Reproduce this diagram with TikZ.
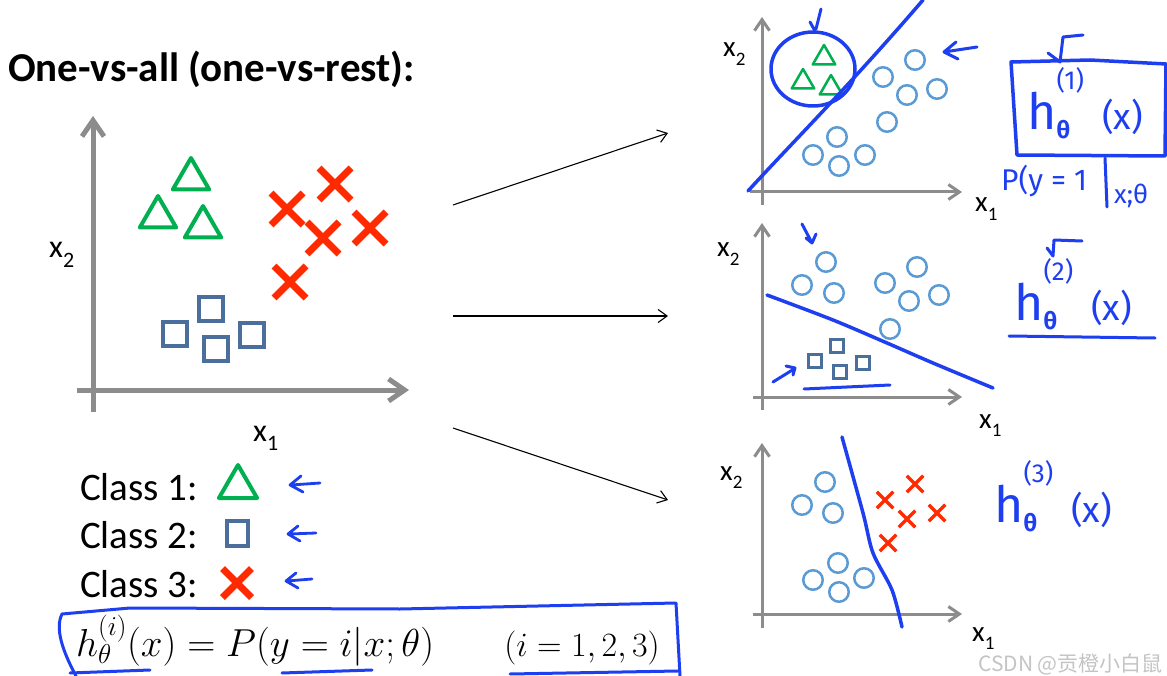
\RequirePackage{fix-cm}
\documentclass[tikz,border=0pt]{standalone}
\usepackage[no-math]{fontspec}
\setmainfont{Carlito}
\newfontfamily\handfont{Fira Sans}
\newfontfamily\cjkfont{Noto Sans CJK SC}
\usepackage{xcolor}
\definecolor{ovagreen}{HTML}{00B050}
\definecolor{ovared}{HTML}{FF2A00}
\definecolor{ovasquare}{HTML}{4A6F9C}
\definecolor{ovacircle}{HTML}{5B9BD5}
\definecolor{ovagray}{HTML}{8C8C8C}
\definecolor{ovablue}{HTML}{1E3FF0}
\definecolor{ovawm}{HTML}{C4C4C4}
\usepackage{tikz}
\usetikzlibrary{arrows.meta,positioning,shapes.geometric,shapes.misc}
\tikzset{
  ovatitle/.style={inner sep=0pt,font=\bfseries\fontsize{41}{46}\selectfont},
  ovaclass/.style={inner sep=0pt,anchor=base west,font=\fontsize{39}{44}\selectfont},
  ovalab/.style={inner sep=0pt,anchor=base west,font=\fontsize{32}{36}\selectfont},
  ovalabs/.style={inner sep=0pt,anchor=base west,font=\fontsize{29}{32}\selectfont},
  ovaaxis/.style={draw=ovagray,line width=5pt,-{Straight Barb[length=16pt,width=22pt]}},
  ovaaxiss/.style={draw=ovagray,line width=3pt,-{Straight Barb[length=11pt,width=15pt]}},
  ovatri/.style={draw=ovagreen,regular polygon,regular polygon sides=3,line width=4pt,line join=round,inner sep=0pt,minimum size=42pt},
  ovatris/.style={ovatri,line width=2.5pt,minimum size=26pt},
  ovasq/.style={draw=ovasquare,rectangle,line width=4pt,inner sep=0pt,minimum size=24pt},
  ovasqs/.style={ovasq,line width=2.5pt,minimum size=13pt},
  ovacross/.style={draw=ovared,cross out,line width=7pt,inner sep=0pt,minimum size=25pt},
  ovacrosss/.style={ovacross,line width=3.5pt,minimum size=13pt},
  ovacirc/.style={draw=ovacircle,circle,line width=2.5pt,inner sep=0pt,minimum size=19.5pt},
  ovaflow/.style={-{Straight Barb[length=9pt,width=13pt]},line width=1.1pt},
  ovahand/.style={draw=ovablue,line width=3.5pt,line cap=round,line join=round},
  ovahtxt/.style={text=ovablue,inner sep=0pt,anchor=base west,font=\handfont},
}
\newcommand{\xsub}[2]{x\raisebox{-0.3em}{\fontsize{#2}{#2}\selectfont #1}}
\newcommand{\hfn}[1]{{\fontsize{50}{50}\selectfont h}%
  \rlap{\raisebox{-9pt}{\fontsize{24}{24}\selectfont\bfseries θ}}%
  \raisebox{40pt}{\fontsize{26}{26}\selectfont(#1)}%
  \kern18pt{\fontsize{36}{36}\selectfont(x)}}

\begin{document}
\begin{tikzpicture}[x=1pt,y=-1pt]
\useasboundingbox (0,0) rectangle (1167,676);
\fill[white] (0,0) rectangle (1167,676);

% title
\node[ovatitle,anchor=base west] (title) at (8,82) {One-vs-all (one-vs-rest):};

% all classes together
\draw[ovaaxis] (93,412) -- (93,116);
\draw[ovaaxis] (77,390) -- (409,390);
\node[ovalab] (lx2) at (49,258) {\xsub{2}{22}};
\node[ovalab] (lx1) at (253,441) {\xsub{1}{22}};
\foreach \n/\x/\y in {1/191/179,2/158/217,3/203/227}
  \node[ovatri] (tri\n) at (\x,\y) {};
\foreach \n/\x/\y in {1/211/309,2/175/334,3/216/349,4/252/335}
  \node[ovasq] (sq\n) at (\x,\y) {};
\foreach \n/\x/\y in {1/335/184,2/287/209,3/323/238,4/370/228,5/290/282}
  \node[ovacross] (cr\n) at (\x,\y) {};

% legend
\node[ovaclass] (c1) at (80,500) {Class 1:};
\node[ovaclass] (c2) at (80,548) {Class 2:};
\node[ovaclass] (c3) at (80,597) {Class 3:};
\node[ovatri,minimum size=44pt] (ktri) at (238,487) {};
\node[ovasq,minimum width=21pt,minimum height=25pt] (ksq) at (237,533) {};
\node[ovacross,minimum size=22pt] (kcr) at (237,583) {};
\draw[ovahand,line width=2.8pt] (320,483) -- (291,485) (301,476) -- (290,485) -- (303,492);
\draw[ovahand,line width=2.8pt] (316,533) -- (289,534) (298,526) -- (288,534) -- (300,541);
\draw[ovahand,line width=2.8pt] (312,579) -- (287,581) (296,573) -- (286,581) -- (298,588);

% formula
\node[inner sep=0pt,anchor=base west,font=\fontsize{39}{44}\selectfont] (hyp) at (76,656)
  {$h_\theta^{(i)}(x) = P(y=i|x;\theta)$};
\node[inner sep=0pt,anchor=base east,font=\fontsize{34}{40}\selectfont] (rng) at (660,656)
  {$(i=1,2,3)$};
\draw[ovahand,line width=3pt] (76,676) .. controls (62,650) and (55,628) .. (62,614)
  -- (130,608) -- (400,609) -- (676,603) -- (680,676);
\draw[ovahand,line width=3pt] (70,673) -- (150,670) (282,673) -- (372,670) (510,674) -- (678,671);

% arrows to the three sub-problems
\coordinate (out1) at (453,205);
\coordinate (out2) at (453,316);
\coordinate (out3) at (453,428);
\coordinate (in1) at (668,133);
\coordinate (in2) at (668,316);
\coordinate (in3) at (668,500);
\draw[ovaflow] (out1) -- (in1);
\draw[ovaflow] (out2) -- (in2);
\draw[ovaflow] (out3) -- (in3);

% class 1 vs rest
\draw[ovaaxiss] (762,205) -- (762,17);
\draw[ovaaxiss] (750,192) -- (962,192);
\node[ovalabs] (ax2) at (723,57) {\xsub{2}{19}};
\node[ovalabs] (ax1) at (975,212) {\xsub{1}{19}};
\foreach \n/\x/\y in {1/824/58,2/803/82,3/831/88}
  \node[ovatris] (atri\n) at (\x,\y) {};
\foreach \n/\x/\y in {1/915/60,2/883/77,3/907/95,4/937/89,5/887/122,6/837/137,7/813/155,8/839/166,9/865/155}
  \node[ovacirc] (ac\n) at (\x,\y) {};
\draw[ovahand] (748,191) .. controls (790,145) and (850,85) .. (923,0);
\draw[ovahand] (813,69) ellipse [x radius=42, y radius=37];
\draw[ovahand,line width=3pt] (821,9) -- (816,29) (810,22) -- (815,31);
\draw[ovahand,line width=3pt] (977,47) -- (944,52) (956,42) -- (944,52) -- (958,59);
\draw[ovahand] (1011,62) -- (1090,60) -- (1166,64) -- (1165,156) -- (1017,155) -- cycle;
\draw[ovahand,line width=3pt] (1048,53) -- (1060,62) -- (1063,37) -- (1083,35);
\node[ovahtxt] (h1) at (1027,130) {\hfn{1}};
\node[ovahtxt,font=\handfont\fontsize{30}{30}\selectfont] (p1) at (1001,191) {P(y = 1};
\draw[ovahand,line width=3pt] (1105,158) -- (1107,207);
\node[ovahtxt,font=\handfont\fontsize{26}{26}\selectfont] (p1b) at (1114,204) {x;θ};

% class 2 vs rest
\draw[ovaaxiss] (762,410) -- (762,223);
\draw[ovaaxiss] (753,397) -- (962,397);
\node[ovalabs] (bx2) at (717,257) {\xsub{2}{19}};
\node[ovalabs] (bx1) at (979,428) {\xsub{1}{19}};
\foreach \n/\x/\y in {1/837/346,2/815/361,3/840/372,4/863/363}
  \node[ovasqs] (bsq\n) at (\x,\y) {};
\foreach \n/\x/\y in {1/826/262,2/802/285,3/834/293,4/885/283,5/917/267,6/909/301,7/939/295,8/890/329}
  \node[ovacirc] (bc\n) at (\x,\y) {};
\draw[ovahand] plot[smooth] coordinates {(767,295) (833,320) (887,343) (933,363) (993,388)};
\draw[ovahand,line width=3pt] (802,224) -- (812,243) (806,238) -- (812,243) -- (816,234);
\draw[ovahand,line width=3pt] (773,382) -- (794,369) (786,366) -- (795,368) -- (793,375);
\draw[ovahand,line width=3pt] (804,389) -- (890,385);
\draw[ovahand,line width=3pt] (1047,248) -- (1053,256) -- (1054,240) -- (1082,241);
\node[ovahtxt] (h2) at (1014,320) {\hfn{2}};
\draw[ovahand,line width=3pt] (1009,336) -- (1155,338);

% class 3 vs rest
\draw[ovaaxiss] (762,628) -- (762,443);
\draw[ovaaxiss] (753,614) -- (962,614);
\node[ovalabs] (cx2) at (720,480) {\xsub{2}{19}};
\node[ovalabs] (cx1) at (972,641) {\xsub{1}{19}};
\foreach \n/\x/\y in {1/825/482,2/802/505,3/833/513,4/838/563,5/813/580,6/839/592,7/864/578}
  \node[ovacirc] (cc\n) at (\x,\y) {};
\foreach \n/\x/\y in {1/885/500,2/915/484,3/907/519,4/937/513,5/888/543}
  \node[ovacrosss] (ccr\n) at (\x,\y) {};
\draw[ovahand] plot[smooth] coordinates {(842,437) (863,513) (873,553) (892,590) (902,627)};
\node[ovahtxt] (h3) at (994,522) {\hfn{3}};

\node[inner sep=0pt,anchor=base east,text=ovawm,font=\cjkfont\fontsize{21}{21}\selectfont] (wm) at (1163,671) {CSDN @贡橙小白鼠};
\end{tikzpicture}
\end{document}
